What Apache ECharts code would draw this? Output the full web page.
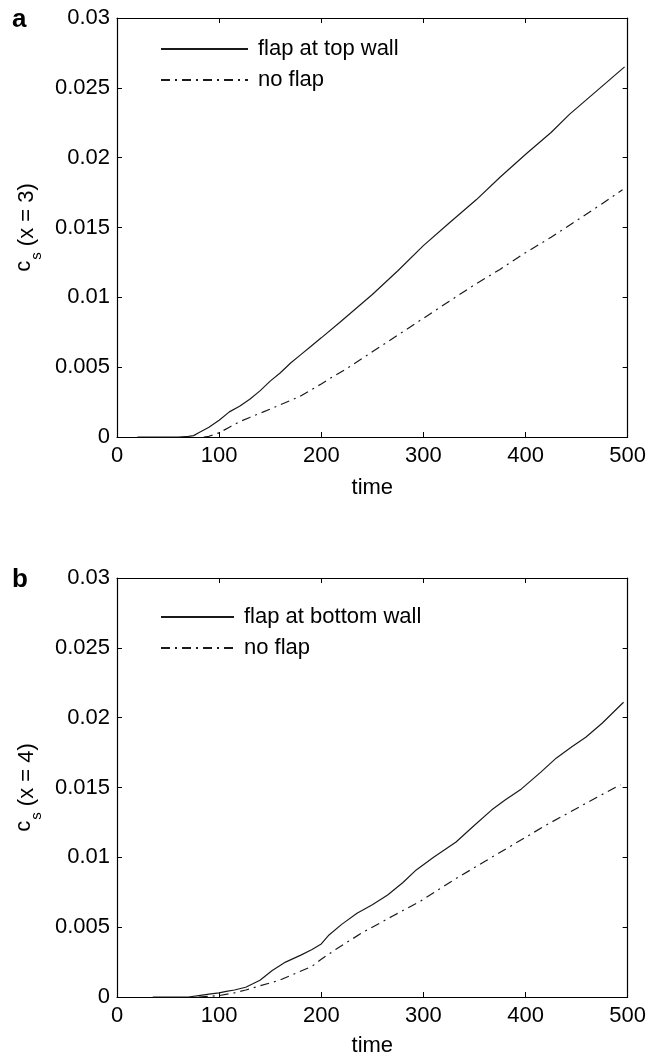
<!DOCTYPE html>
<html>
<head>
<meta charset="utf-8">
<script src="https://cdn.jsdelivr.net/npm/echarts@6/dist/echarts.min.js"></script>
<style>
html,body{margin:0;padding:0;background:#fff;}
#chart{width:649px;height:1064px;}
</style>
</head>
<body>
<div id="chart"></div>
<script>
// ---- Data (panel a: x = 3) ----
var aFlapTime  = [20, 40, 60, 70, 75, 80, 90, 100, 110, 120, 130, 140, 150, 160, 170, 180, 190, 200, 218, 250, 275, 300, 325, 352, 375, 401, 425, 443, 470, 497];
var aFlapVal   = [0, 0, 0, 0.00005, 0.0001, 0.0003, 0.0007, 0.0012, 0.0018, 0.0022, 0.0027, 0.0033, 0.0040, 0.0046, 0.0053, 0.0059, 0.0065, 0.0071, 0.0082, 0.0102, 0.0119, 0.0137, 0.0153, 0.0170, 0.0186, 0.0203, 0.0218, 0.0231, 0.0248, 0.0265];
var aNoTime    = [85, 90, 100, 110, 120, 130, 150, 179, 200, 211, 225, 250, 275, 300, 325, 350, 375, 400, 425, 450, 475, 495];
var aNoVal     = [0, 0.00005, 0.0003, 0.0007, 0.0011, 0.0014, 0.0020, 0.0029, 0.0038, 0.0043, 0.0049, 0.0061, 0.0073, 0.0085, 0.0097, 0.0109, 0.0120, 0.0132, 0.0143, 0.0155, 0.0167, 0.0177];
// ---- Data (panel b: x = 4) ----
var bFlapTime  = [35, 50, 70, 80, 90, 100, 107, 115, 126, 140, 152, 165, 180, 191, 200, 207, 220, 235, 250, 265, 280, 293, 310, 332, 350, 367, 380, 396, 415, 430, 445, 459, 475, 496];
var bFlapVal   = [0, 0, 0, 0.0001, 0.0002, 0.0003, 0.0004, 0.0005, 0.0007, 0.0012, 0.0019, 0.0025, 0.0030, 0.0034, 0.0038, 0.0044, 0.0052, 0.0060, 0.0066, 0.0073, 0.0082, 0.0091, 0.0100, 0.0111, 0.0123, 0.0134, 0.0141, 0.0149, 0.0161, 0.0171, 0.0179, 0.0186, 0.0196, 0.0211];
var bNoTime    = [80, 100, 115, 126, 140, 159, 175, 191, 200, 214, 240, 270, 298, 330, 360, 390, 420, 450, 470, 493];
var bNoVal     = [0, 0.0001, 0.0003, 0.0005, 0.0008, 0.0012, 0.0017, 0.0022, 0.0027, 0.0034, 0.0046, 0.0058, 0.0069, 0.0084, 0.0097, 0.0110, 0.0123, 0.0135, 0.0143, 0.0152];
// ---- Labels ----
var panelLabels = ['a', 'b'];
var legendA = ['flap at top wall', 'no flap'];
var legendB = ['flap at bottom wall', 'no flap'];
var yNames = ['(x = 3)', '(x = 4)'];
var xName = 'time';

function pairs(t, v) { return t.map(function (x, i) { return [x, v[i]]; }); }

var FONT = '"Liberation Sans", Arial, Helvetica, sans-serif';
var LINE = '#1a1a1a';
var DASHDOT = [9, 5, 2, 5];

function xAxisMain(gi, gap) {
  return {
    type: 'value', gridIndex: gi, position: 'bottom', min: 0, max: 500, interval: 100,
    name: xName, nameLocation: 'middle', nameGap: gap,
    nameTextStyle: { fontFamily: FONT, fontSize: 22, color: '#000' },
    axisLine: { show: true, onZero: false, lineStyle: { color: '#000', width: 1.2 } },
    axisTick: { show: true, inside: true, length: 5, lineStyle: { color: '#000' } },
    axisLabel: { fontFamily: FONT, fontSize: 22, color: '#000', margin: 8 },
    splitLine: { show: false }
  };
}
function xAxisTop(gi) {
  return {
    type: 'value', gridIndex: gi, position: 'top', min: 0, max: 500, interval: 100,
    axisLine: { show: true, onZero: false, lineStyle: { color: '#000', width: 1.2 } },
    axisTick: { show: true, inside: true, length: 5, lineStyle: { color: '#000' } },
    axisLabel: { show: false }, splitLine: { show: false }
  };
}
function yAxisMain(gi, nm) {
  return {
    type: 'value', gridIndex: gi, position: 'left', min: 0, max: 0.03, interval: 0.005,
    name: '{c|c}{s|s}{r| ' + nm + '}', nameLocation: 'middle', nameGap: 72, nameRotate: 90,
    nameTextStyle: {
      fontFamily: FONT, color: '#000',
      rich: {
        c: { fontFamily: FONT, fontSize: 22, color: '#000', lineHeight: 22, verticalAlign: 'top' },
        s: { fontFamily: FONT, fontSize: 15, color: '#000', lineHeight: 15, verticalAlign: 'top', padding: [16, 0, 0, 1] },
        r: { fontFamily: FONT, fontSize: 22, color: '#000', lineHeight: 22, verticalAlign: 'top', padding: [3, 0, 0, 0] }
      }
    },
    axisLine: { show: true, onZero: false, lineStyle: { color: '#000', width: 1.2 } },
    axisTick: { show: true, inside: true, length: 5, lineStyle: { color: '#000' } },
    axisLabel: { fontFamily: FONT, fontSize: 22, color: '#000', margin: 7 },
    splitLine: { show: false }
  };
}
function yAxisRight(gi) {
  return {
    type: 'value', gridIndex: gi, position: 'right', min: 0, max: 0.03, interval: 0.005,
    axisLine: { show: true, onZero: false, lineStyle: { color: '#000', width: 1.2 } },
    axisTick: { show: true, inside: true, length: 5, lineStyle: { color: '#000' } },
    axisLabel: { show: false }, splitLine: { show: false }
  };
}
function series(name, xi, yi, data, dash) {
  return {
    type: 'line', name: name, xAxisIndex: xi, yAxisIndex: yi, data: data,
    symbol: 'none', showSymbol: false, smooth: false, animation: false,
    lineStyle: { color: LINE, width: 1.2, type: dash ? DASHDOT : 'solid' },
    itemStyle: { color: LINE }
  };
}
function legend(names, top, iw) {
  return {
    orient: 'vertical', left: 160, top: top, padding: 0, itemWidth: iw, itemHeight: 14, itemGap: 9,
    data: names, selectedMode: false,
    itemStyle: { opacity: 0, borderWidth: 0 },
    lineStyle: { opacity: 1 },
    textStyle: { fontFamily: FONT, fontSize: 22, color: '#000', padding: [0, 0, 0, 5] }
  };
}

var chart = echarts.init(document.getElementById('chart'), null, { renderer: 'canvas' });
chart.setOption({
  backgroundColor: '#fff',
  animation: false,
  title: [
    { text: panelLabels[0], left: 7, top: 2, textStyle: { fontFamily: FONT, fontSize: 26, fontWeight: 'bold', color: '#000' } },
    { text: panelLabels[1], left: 7, top: 562, textStyle: { fontFamily: FONT, fontSize: 26, fontWeight: 'bold', color: '#000' } }
  ],
  legend: [legend(legendA, 38, 87), legend(legendB, 606, 73)],
  grid: [
    { left: 117, right: 21, top: 18, height: 419, containLabel: false },
    { left: 117, right: 21, top: 578, height: 419, containLabel: false }
  ],
  xAxis: [xAxisMain(0, 40), xAxisTop(0), xAxisMain(1, 38), xAxisTop(1)],
  yAxis: [yAxisMain(0, yNames[0]), yAxisRight(0), yAxisMain(1, yNames[1]), yAxisRight(1)],
  series: [
    series(legendA[0], 0, 0, pairs(aFlapTime, aFlapVal), false),
    series(legendA[1], 0, 0, pairs(aNoTime, aNoVal), true),
    series(legendB[0], 2, 2, pairs(bFlapTime, bFlapVal), false),
    series(legendB[1] , 2, 2, pairs(bNoTime, bNoVal), true)
  ]
});
</script>
</body>
</html>
